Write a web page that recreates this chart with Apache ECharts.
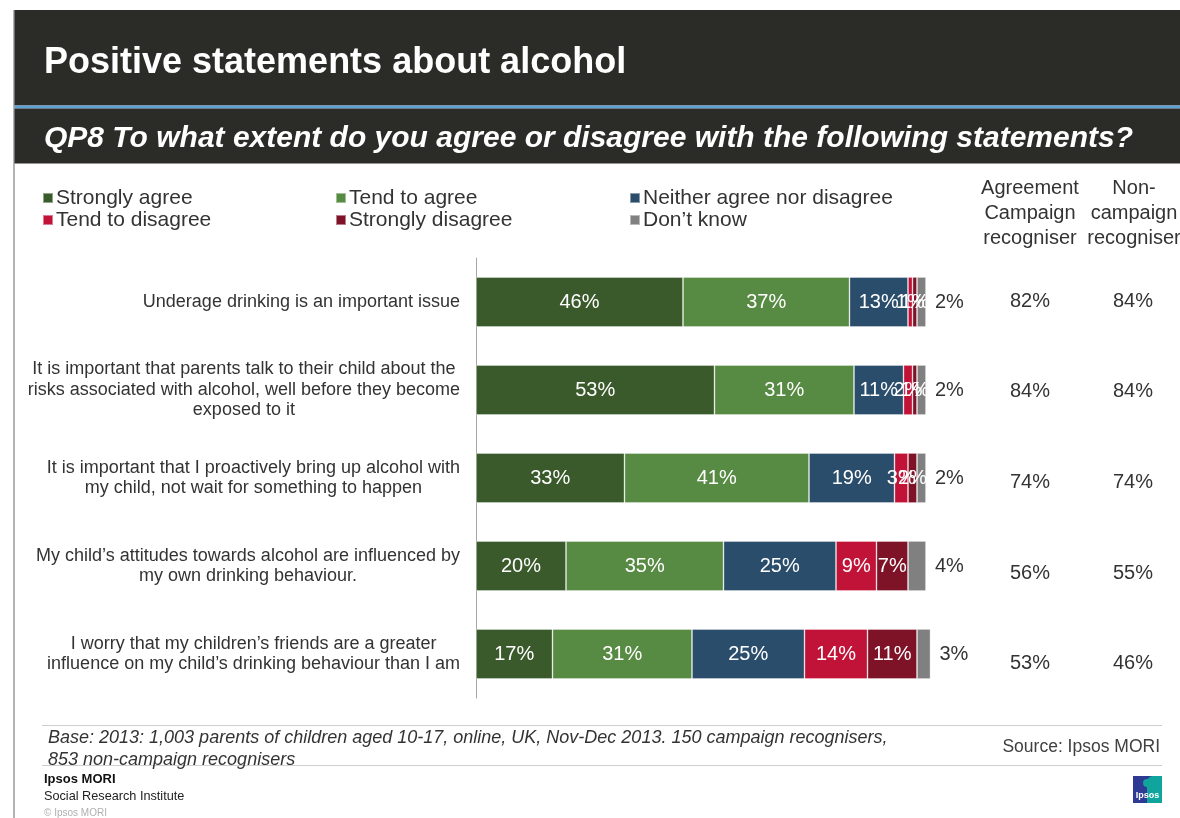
<!DOCTYPE html>
<html>
<head>
<meta charset="utf-8">
<script src="https://cdn.jsdelivr.net/npm/echarts@6/dist/echarts.min.js"></script>
<style>
  html, body { margin: 0; padding: 0; background: #fff; }
  #chart { width: 1180px; height: 818px; }
</style>
</head>
<body>
<div id="chart"></div>
<script>
// Statements (one bar each, top to bottom)
const statements = [
  'Underage drinking is an important issue',
  'It is important that parents talk to their child about the\nrisks associated with alcohol, well before they become\nexposed to it',
  'It is important that I proactively bring up alcohol with\nmy child, not wait for something to happen',
  'My child’s attitudes towards alcohol are influenced by\nmy own drinking behaviour.',
  'I worry that my children’s friends are a greater\ninfluence on my child’s drinking behaviour than I am'
];

// Response shares (%)
const responseNames = ['Strongly agree', 'Tend to agree', 'Neither agree nor disagree',
                       'Tend to disagree', 'Strongly disagree', 'Don’t know'];
const stronglyAgree    = [46, 53, 33, 20, 17];
const tendToAgree      = [37, 31, 41, 35, 31];
const neitherAgree     = [13, 11, 19, 25, 25];
const tendToDisagree   = [1, 2, 3, 9, 14];
const stronglyDisagree = [1, 1, 2, 7, 11];
const dontKnow         = [2, 2, 2, 4, 3];

// Net agreement by group (%)
const agreementGroups = ['Campaign recogniser', 'Non-campaign recogniser'];
const agreeCampaign    = [82, 84, 74, 56, 53];
const agreeNonCampaign = [84, 84, 74, 55, 46];

const responseValues = [stronglyAgree, tendToAgree, neitherAgree, tendToDisagree, stronglyDisagree, dontKnow];
const responseColors = ['#3a5a2b', '#578a43', '#2a4d6b', '#c11237', '#7e1328', '#808080'];

const FONT = '"Liberation Sans", Arial, sans-serif';
const TEXT = '#333333';

const chart = echarts.init(document.getElementById('chart'), null, { renderer: 'canvas' });

const barSeries = responseNames.map((name, k) => ({
  name,
  type: 'bar',
  stack: 'total',
  xAxisIndex: 0,
  yAxisIndex: 0,
  barWidth: 50,
  clip: false,
  data: responseValues[k],
  itemStyle: { color: responseColors[k], borderColor: 'rgba(255,255,255,0.45)', borderWidth: 0.8 },
  label: k === 5 ? {
    show: true, position: 'right', distance: 9, color: TEXT, fontSize: 20, fontFamily: FONT,
    formatter: p => p.value + '%'
  } : {
    show: true, position: 'inside', color: '#ffffff', fontSize: 20, fontFamily: FONT,
    formatter: p => p.value + '%'
  },
  emphasis: { disabled: true }
}));

// Agreement columns as labelled points on their own small grid
const agreementData = [];
statements.forEach((s, i) => {
  agreementData.push([0, i, agreeCampaign[i]]);
  agreementData.push([1, i, agreeNonCampaign[i]]);
});

const legendPos = [[42, 187], [335, 187], [629, 187], [42, 209], [335, 209], [629, 209]];
const legends = responseNames.map((name, k) => ({
  data: [name],
  left: legendPos[k][0],
  top: legendPos[k][1],
  padding: 0,
  icon: 'rect',
  itemWidth: 10,
  itemHeight: 10,
  selectedMode: false,
  textStyle: { fontSize: 21, color: TEXT, fontFamily: FONT, lineHeight: 22, padding: [0, 0, 0, -2] }
}));

const option = {
  animation: false,
  textStyle: { fontFamily: FONT },
  legend: legends,
  grid: [
    { left: 476, top: 258, width: 450, height: 440, containLabel: false },
    { left: 1030, top: 256, width: 103, height: 453, containLabel: false }
  ],
  xAxis: [
    { type: 'value', gridIndex: 0, min: 0, max: 100, show: false },
    { type: 'value', gridIndex: 1, min: 0, max: 1, show: false }
  ],
  yAxis: [
    {
      type: 'category', gridIndex: 0, inverse: true, data: statements,
      axisLine: { show: true, lineStyle: { color: '#a6a6a6', width: 1 } },
      axisTick: { show: false },
      splitLine: { show: false },
      axisLabel: {
        margin: 16,
        formatter: v => v.split('\n').map(line => '{c|' + line + '}').join('\n'),
        rich: { c: { align: 'center', fontSize: 18, lineHeight: 20.5, color: TEXT, fontFamily: FONT } }
      }
    },
    { type: 'category', gridIndex: 1, inverse: true, data: statements, show: false }
  ],
  series: barSeries.concat([{
    name: 'Agreement',
    type: 'scatter',
    xAxisIndex: 1,
    yAxisIndex: 1,
    symbolSize: 0,
    itemStyle: { opacity: 1 },
    data: agreementData,
    label: {
      show: true, position: 'inside', color: TEXT, fontSize: 20, fontFamily: FONT,
      formatter: p => p.value[2] + '%'
    },
    emphasis: { disabled: true }
  }]),
  graphic: [
    // slide frame
    { type: 'line', shape: { x1: 14, y1: 10, x2: 14, y2: 818 }, style: { stroke: '#9a9a9a', lineWidth: 1.5 }, silent: true },
    { type: 'rect', shape: { x: 14.5, y: 10, width: 1166, height: 95.5 }, style: { fill: '#2b2b27' }, silent: true },
    { type: 'rect', shape: { x: 14.5, y: 105.5, width: 1166, height: 3 }, style: { fill: '#5da2d3' }, silent: true },
    { type: 'rect', shape: { x: 14.5, y: 108.5, width: 1166, height: 55 }, style: { fill: '#2b2b27' }, silent: true },
    { type: 'text', left: 44, top: 45, style: { text: 'Positive statements about alcohol', fill: '#ffffff', font: 'bold 36px ' + FONT } },
    { type: 'text', left: 44, top: 124, style: { text: 'QP8 To what extent do you agree or disagree with the following statements?', fill: '#ffffff', font: 'italic bold 30px ' + FONT } },
    // column headers
    { type: 'text', x: 1030, y: 176, style: { text: 'Agreement\nCampaign\nrecogniser', fill: TEXT, font: '20px ' + FONT, align: 'center', lineHeight: 25 } },
    { type: 'text', x: 1134, y: 176, style: { text: 'Non-\ncampaign\nrecogniser', fill: TEXT, font: '20px ' + FONT, align: 'center', lineHeight: 25 } },
    // footer
    { type: 'line', shape: { x1: 42, y1: 725.5, x2: 1162, y2: 725.5 }, style: { stroke: '#cfcfcf', lineWidth: 1 }, silent: true },
    { type: 'line', shape: { x1: 42, y1: 765.5, x2: 1162, y2: 765.5 }, style: { stroke: '#cfcfcf', lineWidth: 1 }, silent: true },
    { type: 'text', left: 48, top: 727, style: { text: 'Base: 2013: 1,003 parents of children aged 10-17, online, UK, Nov-Dec 2013. 150 campaign recognisers,\n853 non-campaign recognisers', fill: TEXT, font: 'italic 18px ' + FONT, lineHeight: 22 } },
    { type: 'text', x: 1160, y: 738, style: { text: 'Source: Ipsos MORI', fill: '#404040', font: '17.5px ' + FONT, align: 'right' } },
    { type: 'text', left: 44, top: 773, style: { text: 'Ipsos MORI', fill: '#111', font: 'bold 13px ' + FONT } },
    { type: 'text', left: 44, top: 790, style: { text: 'Social Research Institute', fill: '#222', font: '12.7px ' + FONT } },
    { type: 'text', left: 44, top: 808, style: { text: '© Ipsos MORI', fill: '#b0b0b0', font: '10px ' + FONT } },
    // logo
    { type: 'rect', shape: { x: 1133, y: 776, width: 29, height: 27 }, style: { fill: '#2e3a94' }, silent: true },
    { type: 'rect', shape: { x: 1147, y: 776, width: 15, height: 27, r: [6, 0, 0, 0] }, style: { fill: '#10a59c' }, silent: true },
    { type: 'circle', shape: { cx: 1147, cy: 783, r: 4 }, style: { fill: '#10a59c' }, silent: true },
    { type: 'text', x: 1147.5, y: 791, style: { text: 'Ipsos', fill: '#ffffff', font: 'bold 9px ' + FONT, align: 'center' } }
  ]
};

chart.setOption(option);
</script>
</body>
</html>
